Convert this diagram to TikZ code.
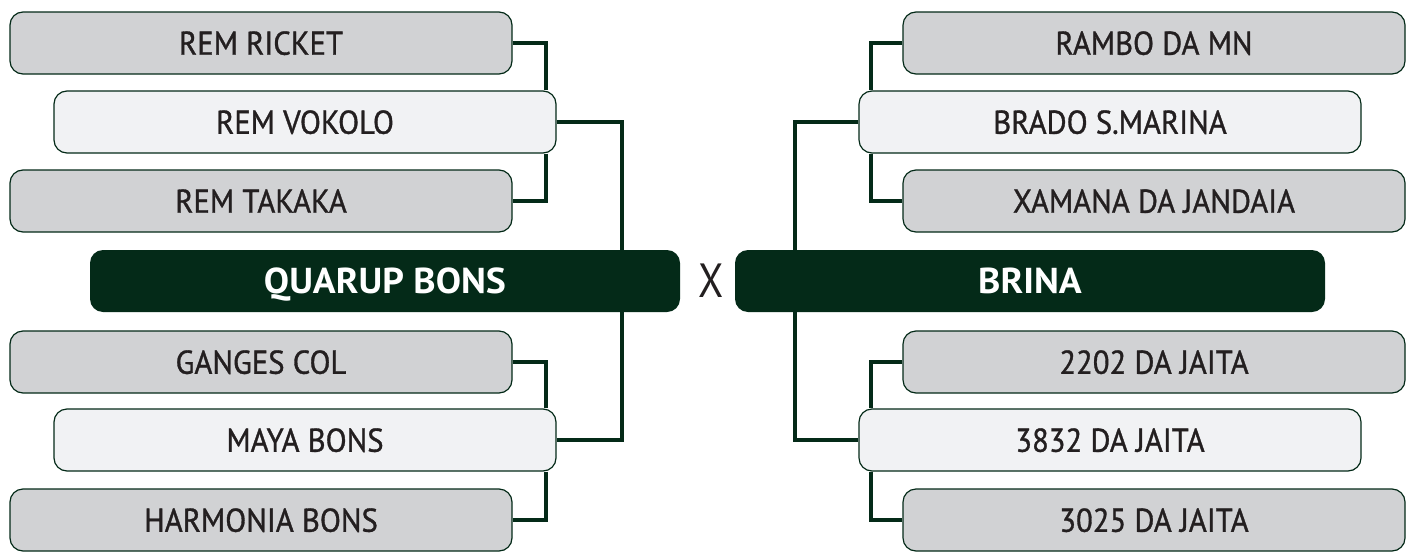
\documentclass[tikz,border=0pt]{standalone}
\usepackage{fontspec}
\setmainfont[FakeStretch=0.93,FakeBold=1]{PT Sans}
\newfontfamily\finalfont[FakeStretch=1.05]{PT Sans Bold}
\newfontfamily\xfont[FakeStretch=0.85]{PT Sans}
\definecolor{dkgreen}{HTML}{042A18}
\definecolor{boxgray}{HTML}{D1D2D4}
\definecolor{boxlight}{HTML}{F1F2F4}
\definecolor{txt}{HTML}{231F20}
\begin{document}
\begin{tikzpicture}[x=1pt,y=-1pt,
  team/.style={draw=dkgreen,line width=1.2pt,rounded corners=13pt,minimum width=502pt,minimum height=62pt,inner sep=0pt,text depth=0pt,font=\fontsize{33}{33}\selectfont,text=txt},
  grayteam/.style={team,fill=boxgray},
  lightteam/.style={team,fill=boxlight},
  final/.style={fill=dkgreen,rounded corners=13pt,minimum width=590pt,minimum height=62pt,inner sep=0pt,text depth=0pt,font=\finalfont\fontsize{36}{36}\selectfont,text=white},
  link/.style={draw=dkgreen,line width=4pt}]
\useasboundingbox (0,0) rectangle (1415,554);
% left
\node[grayteam] (a1) at (261,43) {REM RICKET};
\node[lightteam] (a2) at (305,122) {REM VOKOLO};
\node[grayteam] (a3) at (261,201) {REM TAKAKA};
\node[final] (A) at (385,281) {QUARUP BONS};
\node[grayteam] (b1) at (261,362) {GANGES COL};
\node[lightteam] (b2) at (305,440) {MAYA BONS};
\node[grayteam] (b3) at (261,520) {HARMONIA BONS};
% middle
\node[font=\xfont\fontsize{48}{48}\selectfont,text=txt,inner sep=0pt,text depth=0pt] (x) at (711,281) {X};
% right
\node[final] (B) at (1030,281) {BRINA};
\node[grayteam] (c1) at (1154,43) {RAMBO DA MN};
\node[lightteam] (c2) at (1110,122) {BRADO S.MARINA};
\node[grayteam] (c3) at (1154,201) {XAMANA DA JANDAIA};
\node[grayteam] (d1) at (1154,362) {2202 DA JAITA};
\node[lightteam] (d2) at (1110,440) {3832 DA JAITA};
\node[grayteam] (d3) at (1154,520) {3025 DA JAITA};
% connectors left
\draw[link] (a1.east) -| ([xshift=-11pt]a2.north east);
\draw[link] ([xshift=-11pt]a2.south east) |- (a3.east);
\draw[link] (a2.east) -| ([xshift=237pt]A.north);
\draw[link] ([xshift=237pt]A.south) |- (b2.east);
\draw[link] (b1.east) -| ([xshift=-11pt]b2.north east);
\draw[link] ([xshift=-11pt]b2.south east) |- (b3.east);
% connectors right
\draw[link] (c1.west) -| ([xshift=13pt]c2.north west);
\draw[link] ([xshift=13pt]c2.south west) |- (c3.west);
\draw[link] (c2.west) -| ([xshift=-235pt]B.north);
\draw[link] ([xshift=-235pt]B.south) |- (d2.west);
\draw[link] (d1.west) -| ([xshift=13pt]d2.north west);
\draw[link] ([xshift=13pt]d2.south west) |- (d3.west);
\end{tikzpicture}
\end{document}
